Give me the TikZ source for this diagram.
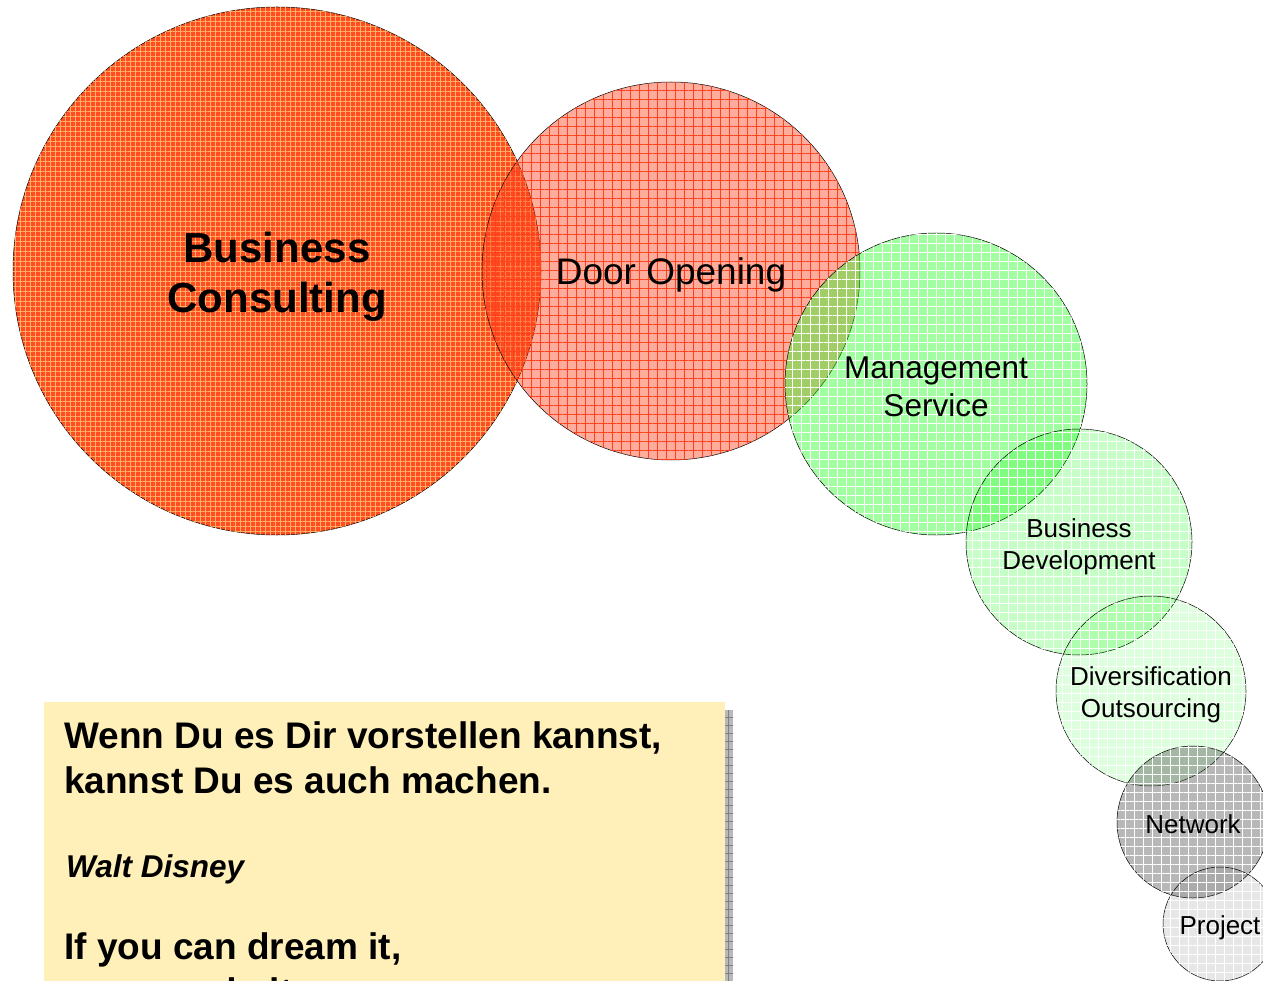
\documentclass[tikz,border=0pt]{standalone}
\usepackage{fontspec}
\setmainfont{Liberation Sans}
\usepackage{tikz}
\usetikzlibrary{patterns.meta}

\definecolor{consred}{RGB}{255,66,22}
\definecolor{doorred}{RGB}{255,66,30}
\definecolor{greenbase}{RGB}{30,252,30}
\definecolor{graybase}{RGB}{85,85,85}
\definecolor{quoteyellow}{RGB}{255,239,184}
\definecolor{shadowgray}{RGB}{185,185,185}

\begin{document}
\begin{tikzpicture}[x=1pt,y=-1pt]
      \tikzstyle{every node} = [inner sep = 0pt, text opacity = 1];
      \tikzstyle{bubble} = [circle, draw=black, line width=0.5pt, draw opacity=1]
      \tikzstyle{texture} = [postaction={fill opacity=#1, pattern={Hatch[distance=9pt, line width=0.6pt]}, pattern color=white}]
      \tikzstyle{caption} = [align=center, font=\fontsize{26}{32}\selectfont]
      \useasboundingbox (0,0) rectangle (1263,981);
      \begin{scope}
        \clip (0,0) rectangle (1263,981);
        \node(consult) [bubble, minimum size=528pt, fill=consred, fill opacity=0.95,
          postaction={fill opacity=0.1, pattern={Hatch[distance=5pt, line width=0.5pt]}, pattern color=orange!60!white}]
          at (277,271) {};
        \node(door) [bubble, minimum size=378pt, fill=doorred, fill opacity=0.44,
          postaction={fill opacity=0.25, pattern={Hatch[distance=9pt, line width=0.6pt]}, pattern color=doorred}]
          at (671,271) {};
        \node(manage) [bubble, minimum size=302pt, fill=greenbase, fill opacity=0.42,
          texture=0.35] at (936,384) {};
        \foreach \nm/\cx/\cy/\d/\col/\op in {
            busdev/1079/542/226/greenbase/0.25,
            divers/1151/691/190/greenbase/0.15,
            network/1193/822/152/graybase/0.42,
            project/1220/924/114/graybase/0.14}{
          \node(\nm) [bubble, minimum size=\d pt, fill=\col, fill opacity=\op,
            texture=0.35] at (\cx,\cy) {};
        }
        \node(consulttext) [align=center, font=\fontsize{42}{50}\selectfont\bfseries]
          at ([yshift=-6pt]consult.center) {Business\\Consulting};
        \node(doortext) [font=\fontsize{37}{44}\selectfont] at ([yshift=-4pt]door.center) {Door Opening};
        \node(managetext) [align=center, font=\fontsize{31.5}{38}\selectfont]
          at ([yshift=-3pt]manage.center) {Management\\Service};
        \node(busdevtext) [caption] at ([yshift=-5pt]busdev.center) {Business\\Development};
        \node(diverstext) [caption] at ([yshift=-4pt]divers.center) {Diversification\\Outsourcing};
        \node(networktext) [caption] at ([yshift=-2pt]network.center) {Network};
        \node(projecttext) [caption] at ([yshift=-4pt]project.center) {Project};
        % quote box
        \fill[shadowgray] (725,710) rectangle (733,990);
        \path[pattern={Hatch[distance=8pt, line width=0.5pt]}, pattern color=gray] (725,710) rectangle (733,990);
        \node(quote) [fill=quoteyellow, anchor=north west, minimum width=681pt, minimum height=300pt] at (44,702) {};
        \node(line1) [anchor=base west, font=\fontsize{37}{45}\selectfont\bfseries] at (64,748) {Wenn Du es Dir vorstellen kannst,};
        \node(line2) [anchor=base west, font=\fontsize{37}{45}\selectfont\bfseries] at (64,793) {kannst Du es auch machen.};
        \node(author) [anchor=base west, font=\fontsize{31.5}{38}\selectfont\bfseries\itshape] at (66,877) {Walt Disney};
        \node(line3) [anchor=base west, font=\fontsize{37}{45}\selectfont\bfseries] at (64,959) {If you can dream it,};
        \node(line4) [anchor=base west, font=\fontsize{37}{45}\selectfont\bfseries] at (64,1004) {you can do it.};
      \end{scope}
\end{tikzpicture}
\end{document}
